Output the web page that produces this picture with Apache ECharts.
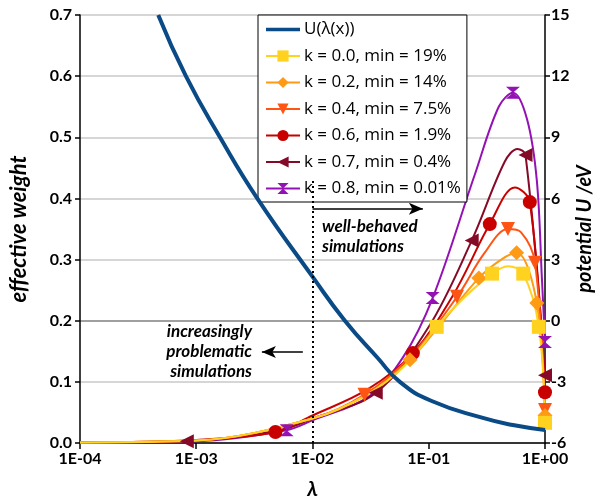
<!DOCTYPE html>
<html>
<head>
<meta charset="utf-8">
<script src="https://cdn.jsdelivr.net/npm/echarts@6/dist/echarts.min.js"></script>
<style>
  html, body { margin: 0; padding: 0; background: #fff; }
  #chart { width: 597px; height: 504px; }
</style>
</head>
<body>
<div id="chart"></div>
<script>
// tick labels
const xTickLabels = ['1E-04', '1E-03', '1E-02', '1E-01', '1E+00'];

// potential curve, right axis (eV)
const uCurve = [
  [4.71e-4, 15], [8.15e-4, 12.0], [1.6e-3, 9.0], [3.35e-3, 6.0], [0.01, 2.16],
  [0.019, 0.0], [0.0364, -1.83], [0.0564, -3.0], [0.106, -3.94], [0.292, -4.77],
  [0.529, -5.12], [1, -5.36]
];

// effective weights: points with a marker, plus extra points
const k00Marks = [[0.117, 0.19], [0.35, 0.277], [0.65, 0.277], [0.885, 0.19], [1, 0.033]];
const k00Curve = [[1e-4, 0.001], [1e-3, 0.004], [0.01, 0.04], [0.03, 0.08], [0.065, 0.13], [0.2, 0.237], [0.48, 0.289]];

const k02Marks = [[0.069, 0.136], [0.27, 0.27], [0.57, 0.311], [0.85, 0.229], [1, 0.045]];
const k02Curve = [[1e-4, 0.001], [1e-3, 0.004], [0.01, 0.04], [0.03, 0.08], [0.13, 0.197], [0.42, 0.3]];

const k04Marks = [[0.028, 0.079], [0.175, 0.239], [0.48, 0.35], [0.82, 0.295], [1, 0.054]];
const k04Curve = [[1e-4, 0.001], [1e-3, 0.004], [0.01, 0.04], [0.07, 0.142], [0.3, 0.31], [0.62, 0.345]];

const k06Marks = [[0.0048, 0.018], [0.073, 0.147], [0.335, 0.358], [0.74, 0.394], [1, 0.083]];
const k06Curve = [[1e-4, 0.001], [1e-3, 0.005], [0.01, 0.045], [0.03, 0.088], [0.16, 0.24], [0.55, 0.418]];

const k07Marks = [[8.3e-4, 0.003], [0.035, 0.082], [0.234, 0.331], [0.68, 0.471], [1, 0.111]];
const k07Curve = [[1e-4, 0.001], [0.005, 0.02], [0.01, 0.04], [0.1, 0.19], [0.45, 0.46], [0.58, 0.481]];

const k08Marks = [[0.006, 0.021], [0.108, 0.237], [0.53, 0.573], [1, 0.165]];
const k08Curve = [[1e-4, 0.001], [1e-3, 0.003], [0.01, 0.037], [0.03, 0.075], [0.06, 0.14], [0.25, 0.44], [0.4, 0.55], [0.7, 0.53], [0.85, 0.43], [0.94, 0.27]];

const uName = 'U(λ(x))';
const kNames = [
  'k = 0.0, min = 19%', 'k = 0.2, min = 14%', 'k = 0.4, min = 7.5%',
  'k = 0.6, min = 1.9%', 'k = 0.7, min = 0.4%', 'k = 0.8, min = 0.01%'
];
const kMarks = [k00Marks, k02Marks, k04Marks, k06Marks, k07Marks, k08Marks];
const kCurves = [k00Curve, k02Curve, k04Curve, k06Curve, k07Curve, k08Curve];

// styles
const uColor = '#0A4A86';
const kColors = ['#FFD21F', '#FF9A14', '#FF5514', '#C80000', '#850A28', '#9412B4'];
const hourglass = 'path://M0,0 L10,0 L5,5 L10,10 L0,10 L5,5 Z';
const kSymbols = ['rect', 'diamond', 'triangle', 'circle', 'triangle', hourglass];
const kRotate = [0, 0, 180, 0, 90, 0];
const kSizes = [14, 15, 14, 14, 14, [14, 12]];
// thin bar centred in a 34x14 box (the two dots fix the box height)
const lineIcon = 'path://M0,0 L0.01,0 L0.01,0.01 Z M0,5.2 L34,5.2 L34,8.8 L0,8.8 Z M0,14 L0.01,14 L0.01,13.99 Z';

function mergePoints(marks, curve) {
  const a = marks.map(p => ({ value: p }));
  const b = curve.map(p => ({ value: p, symbol: 'none' }));
  return a.concat(b).sort((p, q) => p.value[0] - q.value[0]);
}

const font = 'Lato';
const chart = echarts.init(document.getElementById('chart'));

const series = [];
for (let i = kNames.length - 1; i >= 0; i--) {
  series.push({
    name: kNames[i],
    type: 'line',
    yAxisIndex: 0,
    smooth: 0.35,
    symbol: kSymbols[i],
    symbolRotate: kRotate[i],
    symbolSize: kSizes[i],
    showAllSymbol: true,
    color: kColors[i],
    lineStyle: { width: 2, color: kColors[i] },
    itemStyle: { color: kColors[i] },
    data: mergePoints(kMarks[i], kCurves[i]),
    z: 3,
    animation: false
  });
}
series.push({
  name: uName,
  type: 'line',
  yAxisIndex: 1,
  smooth: 0.5,
  symbol: 'none',
  color: uColor,
  lineStyle: { width: 4, color: uColor },
  data: uCurve,
  z: 4,
  animation: false
});
// annotations: dotted divider and arrows
series.push({
  name: 'annot',
  type: 'line',
  yAxisIndex: 0,
  data: [],
  animation: false,
  markLine: {
    silent: true,
    animation: false,
    label: { show: false },
    data: [
      [{ coord: [0.01, 0], symbol: 'none', lineStyle: { type: [2, 3], width: 2, color: '#000' } },
       { coord: [0.01, 0.43], symbol: 'none' }],
      [{ coord: [0.01, 0.383], symbol: 'none', lineStyle: { type: 'solid', width: 1.5, color: '#000' } },
       { coord: [0.089, 0.383], symbol: 'arrow', symbolSize: [9, 14] }],
      [{ coord: [0.00826, 0.149], symbol: 'none', lineStyle: { type: 'solid', width: 1.5, color: '#000' } },
       { coord: [0.00367, 0.149], symbol: 'arrow', symbolSize: [9, 14] }]
    ]
  }
});

const option = {
  backgroundColor: '#fff',
  grid: { left: 80, right: 52, top: 15, bottom: 61, outerBoundsMode: 'none', containLabel: false },
  legend: {
    data: [{ name: uName, icon: lineIcon, itemStyle: { color: uColor } }].concat(kNames),
    orient: 'vertical',
    left: 258,
    top: 15,
    backgroundColor: '#fff',
    borderColor: '#000',
    borderWidth: 1,
    borderRadius: 0,
    padding: [6, 6, 5, 7],
    itemGap: 9.5,
    itemWidth: 34,
    itemHeight: 14,
    textStyle: { fontFamily: 'Open Sans', fontSize: 17, color: '#000', padding: [0, 0, 0, -1] }
  },
  xAxis: {
    type: 'log',
    logBase: 10,
    min: 1e-4,
    max: 1,
    name: 'λ',
    nameLocation: 'middle',
    nameGap: 36,
    nameTextStyle: { fontFamily: font, fontSize: 21, fontWeight: 'bold', fontStyle: 'italic', color: '#000' },
    axisLine: { lineStyle: { color: '#000', width: 1.5 } },
    axisTick: { show: true, length: 6, lineStyle: { color: '#000', width: 1.5 } },
    minorTick: { show: false },
    splitLine: { show: false },
    axisLabel: {
      fontFamily: font, fontSize: 16, fontWeight: 'bold', color: '#000', margin: 8,
      formatter: v => xTickLabels[Math.round(Math.log10(v)) + 4]
    }
  },
  yAxis: [
    {
      type: 'value',
      min: 0,
      max: 0.7,
      interval: 0.1,
      name: 'effective weight',
      nameLocation: 'middle',
      nameRotate: 90,
      nameGap: 50,
      nameTextStyle: { fontFamily: font, fontSize: 22, fontWeight: 'bold', fontStyle: 'italic', color: '#000' },
      axisLine: { show: true, lineStyle: { color: '#000', width: 1.5 } },
      axisTick: { show: true, length: 5, lineStyle: { color: '#000', width: 1.5 } },
      splitLine: {
        show: true,
        lineStyle: { color: ['#c8c8c8', '#c8c8c8', '#808080', '#c8c8c8', '#c8c8c8', '#c8c8c8', '#c8c8c8', '#c8c8c8'], width: 1.5 }
      },
      axisLabel: {
        fontFamily: font, fontSize: 16, fontWeight: 'bold', color: '#000', margin: 8,
        formatter: v => v.toFixed(1)
      }
    },
    {
      type: 'value',
      min: -6,
      max: 15,
      interval: 3,
      position: 'right',
      name: 'potential U /eV',
      nameLocation: 'middle',
      nameRotate: 90,
      nameGap: 30,
      nameMoveOverlap: false,
      nameTextStyle: { fontFamily: font, fontSize: 20, fontWeight: 'bold', fontStyle: 'italic', color: '#000' },
      axisLine: { show: true, lineStyle: { color: '#000', width: 1.5 } },
      axisTick: { show: true, length: 5, lineStyle: { color: '#000', width: 1.5 } },
      splitLine: { show: false },
      axisLabel: { fontFamily: font, fontSize: 16, fontWeight: 'bold', color: '#000', margin: 6 }
    }
  ],
  graphic: [
    {
      type: 'text', left: 322, top: 217, z: 10,
      style: { text: 'well-behaved\nsimulations', font: 'italic bold 17px Lato', fill: '#000', lineHeight: 20 }
    },
    {
      type: 'text', x: 252, y: 322, z: 10,
      style: {
        text: 'increasingly\nproblematic\nsimulations', font: 'italic bold 17px Lato',
        fill: '#000', lineHeight: 20, align: 'right', verticalAlign: 'top'
      }
    }
  ],
  series: series
};
chart.setOption(option);
</script>
</body>
</html>
